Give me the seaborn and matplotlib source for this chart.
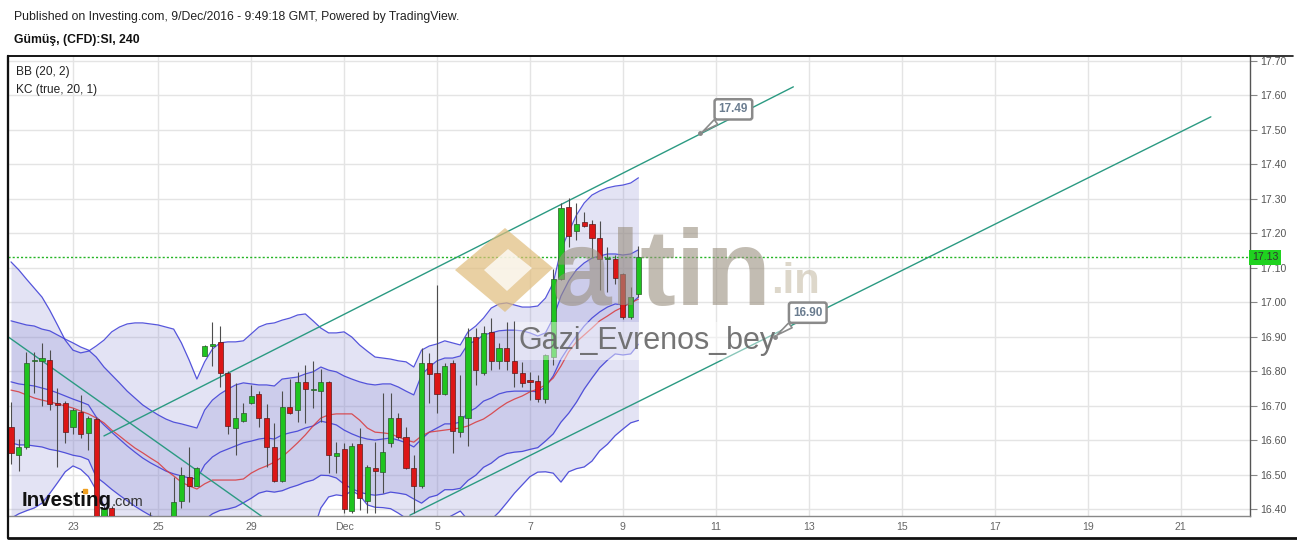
import matplotlib
matplotlib.use("Agg")
import matplotlib.pyplot as plt
from matplotlib import font_manager
from matplotlib.lines import Line2D
from matplotlib.patches import Polygon
import matplotlib.transforms as mtransforms
import numpy as np
import seaborn as sns

# ── data (4h candles, Gümüş CFD) ───────────────────────────────────────────────
opens = [16.638, 16.557, 16.580, 16.829, 16.829, 16.832, 16.706, 16.708, 16.638, 16.681,
         16.620, 16.661, 16.330, 16.403, 16.310, 16.270, 16.300, 16.290, 16.310, 16.350,
         16.330, 16.340, 16.424, 16.492, 16.468, 16.845, 16.874, 16.884, 16.794, 16.634,
         16.656, 16.708, 16.733, 16.663, 16.581, 16.482, 16.697, 16.687, 16.768, 16.745,
         16.742, 16.768, 16.555, 16.573, 16.394, 16.589, 16.424, 16.518, 16.508, 16.591,
         16.663, 16.608, 16.518, 16.468, 16.823, 16.794, 16.733, 16.823, 16.624, 16.663,
         16.898, 16.796, 16.913, 16.830, 16.866, 16.830, 16.796, 16.774, 16.771, 16.718,
         16.842, 17.067, 17.276, 17.206, 17.233, 17.228, 17.187, 17.124, 17.126, 17.082,
         16.957, 17.023]
highs = [16.710, 16.603, 16.856, 16.856, 16.882, 16.861, 16.751, 16.712, 16.693, 16.731,
         16.670, 16.668, 16.410, 16.410, 16.350, 16.320, 16.340, 16.330, 16.390, 16.370,
         16.360, 16.493, 16.523, 16.581, 16.522, 16.876, 16.944, 16.932, 16.800, 16.765,
         16.708, 16.760, 16.742, 16.705, 16.650, 16.742, 16.776, 16.798, 16.818, 16.829,
         16.805, 16.772, 16.595, 16.591, 16.591, 16.634, 16.528, 16.593, 16.736, 16.736,
         16.679, 16.639, 16.557, 16.866, 16.852, 17.050, 16.825, 16.832, 16.789, 16.924,
         16.924, 16.932, 16.954, 16.882, 16.944, 16.945, 16.826, 16.798, 16.789, 16.849,
         17.096, 17.287, 17.302, 17.287, 17.263, 17.239, 17.237, 17.161, 17.137, 17.086,
         17.043, 17.163]
lows = [16.531, 16.510, 16.574, 16.737, 16.699, 16.687, 16.522, 16.591, 16.618, 16.606,
        16.571, 16.300, 16.300, 16.290, 16.240, 16.230, 16.260, 16.250, 16.290, 16.300,
        16.290, 16.320, 16.402, 16.421, 16.467, 16.844, 16.815, 16.753, 16.618, 16.557,
        16.653, 16.705, 16.637, 16.523, 16.478, 16.477, 16.676, 16.653, 16.649, 16.692,
        16.653, 16.504, 16.504, 16.388, 16.388, 16.397, 16.388, 16.388, 16.446, 16.581,
        16.602, 16.516, 16.388, 16.460, 16.707, 16.678, 16.731, 16.563, 16.610, 16.584,
        16.760, 16.789, 16.803, 16.806, 16.803, 16.754, 16.754, 16.716, 16.711, 16.707,
        16.818, 17.065, 17.161, 17.180, 17.219, 17.130, 17.035, 17.029, 17.053, 16.952,
        16.951, 17.015]
closes = [16.562, 16.580, 16.824, 16.833, 16.838, 16.705, 16.703, 16.623, 16.687, 16.618,
          16.664, 16.330, 16.403, 16.310, 16.270, 16.300, 16.290, 16.310, 16.350, 16.330,
          16.340, 16.421, 16.498, 16.468, 16.518, 16.873, 16.874, 16.794, 16.642, 16.663,
          16.678, 16.728, 16.663, 16.581, 16.482, 16.697, 16.678, 16.769, 16.747, 16.745,
          16.768, 16.557, 16.562, 16.400, 16.583, 16.431, 16.521, 16.511, 16.566, 16.663,
          16.608, 16.518, 16.468, 16.823, 16.792, 16.733, 16.816, 16.626, 16.670, 16.898,
          16.803, 16.910, 16.830, 16.866, 16.830, 16.796, 16.767, 16.769, 16.719, 16.847,
          17.067, 17.273, 17.191, 17.228, 17.220, 17.187, 17.126, 17.124, 17.071, 16.957,
          17.016, 17.131]

# Bollinger Bands (20, 2)
bb_upper = [17.117, 17.094, 17.067, 17.041, 17.015, 16.977, 16.934, 16.890, 16.861, 16.853,
            16.858, 16.873, 16.890, 16.914, 16.928, 16.937, 16.940, 16.940, 16.937, 16.934,
            16.928, 16.922, 16.882, 16.832, 16.777, 16.827, 16.864, 16.882, 16.885, 16.885,
            16.888, 16.908, 16.928, 16.937, 16.940, 16.948, 16.954, 16.963, 16.966, 16.946,
            16.925, 16.911, 16.911, 16.914, 16.899, 16.876, 16.858, 16.841, 16.838, 16.835,
            16.830, 16.827, 16.812, 16.861, 16.873, 16.879, 16.888, 16.882, 16.876, 16.914,
            16.931, 16.954, 16.983, 16.995, 16.998, 16.992, 16.986, 16.986, 16.989, 17.012,
            17.056, 17.152, 17.204, 17.253, 17.288, 17.311, 17.323, 17.332, 17.337, 17.340,
            17.346, 17.361]
bb_basis = [16.745, 16.740, 16.731, 16.722, 16.716, 16.711, 16.705, 16.699, 16.693, 16.684,
            16.676, 16.664, 16.650, 16.629, 16.612, 16.594, 16.577, 16.563, 16.548, 16.534,
            16.513, 16.496, 16.478, 16.467, 16.458, 16.473, 16.484, 16.484, 16.484, 16.484,
            16.487, 16.504, 16.516, 16.525, 16.536, 16.551, 16.571, 16.592, 16.615, 16.641,
            16.664, 16.673, 16.676, 16.676, 16.676, 16.658, 16.635, 16.623, 16.621, 16.618,
            16.609, 16.600, 16.594, 16.612, 16.623, 16.626, 16.629, 16.632, 16.635, 16.641,
            16.652, 16.661, 16.676, 16.693, 16.708, 16.719, 16.728, 16.740, 16.748, 16.760,
            16.780, 16.815, 16.856, 16.885, 16.905, 16.925, 16.946, 16.960, 16.975, 16.986,
            16.998, 17.009]
bb_lower = [16.373, 16.386, 16.395, 16.403, 16.417, 16.445, 16.476, 16.508, 16.525, 16.515,
            16.494, 16.455, 16.410, 16.344, 16.296, 16.251, 16.214, 16.186, 16.159, 16.134,
            16.098, 16.070, 16.074, 16.102, 16.139, 16.119, 16.104, 16.086, 16.083, 16.083,
            16.086, 16.100, 16.104, 16.113, 16.132, 16.154, 16.188, 16.221, 16.264, 16.336,
            16.403, 16.435, 16.441, 16.438, 16.453, 16.440, 16.412, 16.405, 16.404, 16.401,
            16.388, 16.373, 16.376, 16.363, 16.373, 16.373, 16.370, 16.382, 16.394, 16.368,
            16.373, 16.368, 16.369, 16.391, 16.418, 16.446, 16.470, 16.494, 16.507, 16.508,
            16.504, 16.478, 16.508, 16.517, 16.522, 16.539, 16.569, 16.588, 16.613, 16.632,
            16.650, 16.657]

# Keltner Channel (true, 20, 1)
kc_upper = [16.946, 16.940, 16.934, 16.931, 16.922, 16.917, 16.905, 16.893, 16.882, 16.870,
            16.861, 16.841, 16.812, 16.789, 16.766, 16.742, 16.722, 16.702, 16.687, 16.673,
            16.661, 16.652, 16.647, 16.641, 16.635, 16.687, 16.716, 16.734, 16.748, 16.760,
            16.766, 16.763, 16.760, 16.760, 16.757, 16.777, 16.780, 16.783, 16.792, 16.798,
            16.812, 16.803, 16.798, 16.786, 16.777, 16.769, 16.763, 16.760, 16.763, 16.763,
            16.754, 16.742, 16.731, 16.789, 16.812, 16.830, 16.838, 16.838, 16.844, 16.879,
            16.888, 16.905, 16.911, 16.917, 16.919, 16.919, 16.917, 16.911, 16.902, 16.911,
            16.954, 17.018, 17.062, 17.094, 17.114, 17.128, 17.134, 17.140, 17.140, 17.137,
            17.140, 17.152]
kc_basis = [16.769, 16.763, 16.760, 16.757, 16.751, 16.745, 16.737, 16.728, 16.719, 16.711,
            16.702, 16.667, 16.644, 16.623, 16.603, 16.583, 16.565, 16.548, 16.534, 16.522,
            16.510, 16.502, 16.496, 16.490, 16.487, 16.528, 16.551, 16.565, 16.574, 16.583,
            16.592, 16.597, 16.603, 16.606, 16.603, 16.615, 16.621, 16.626, 16.635, 16.641,
            16.655, 16.650, 16.644, 16.629, 16.618, 16.609, 16.603, 16.600, 16.603, 16.606,
            16.600, 16.592, 16.580, 16.603, 16.623, 16.635, 16.647, 16.647, 16.652, 16.681,
            16.693, 16.713, 16.722, 16.734, 16.740, 16.742, 16.742, 16.742, 16.740, 16.754,
            16.786, 16.835, 16.870, 16.902, 16.931, 16.954, 16.972, 16.986, 16.995, 16.992,
            16.995, 17.015]
kc_lower = [16.592, 16.586, 16.586, 16.583, 16.580, 16.573, 16.569, 16.563, 16.556, 16.552,
            16.543, 16.493, 16.476, 16.457, 16.440, 16.424, 16.408, 16.394, 16.381, 16.371,
            16.359, 16.352, 16.345, 16.339, 16.339, 16.369, 16.386, 16.396, 16.400, 16.406,
            16.418, 16.431, 16.446, 16.452, 16.449, 16.453, 16.462, 16.469, 16.478, 16.484,
            16.498, 16.497, 16.490, 16.472, 16.459, 16.449, 16.443, 16.440, 16.443, 16.449,
            16.446, 16.442, 16.429, 16.417, 16.434, 16.440, 16.456, 16.456, 16.460, 16.483,
            16.498, 16.521, 16.533, 16.551, 16.561, 16.565, 16.567, 16.573, 16.578, 16.597,
            16.618, 16.652, 16.678, 16.710, 16.748, 16.780, 16.810, 16.832, 16.850, 16.847,
            16.850, 16.878]

# hand-drawn trend lines: (bar, price) end points
trend_down = [(-0.4, 16.900), (32.6, 16.375)]
trend_up_hi = [(12.0, 16.612), (101.0, 17.625)]
trend_up_lo = [(51.5, 16.382), (154.9, 17.538)]
callouts = [(89.0, 17.49, "17.49"), (98.6, 16.90, "16.90")]

last_price = 17.13
price_ticks = [16.40, 16.50, 16.60, 16.70, 16.80, 16.90, 17.00, 17.10, 17.20,
               17.30, 17.40, 17.50, 17.60, 17.70]
date_ticks = [8, 19, 31, 43, 55, 67, 79, 91, 103, 115, 127, 139, 151]
date_labels = ["23", "25", "29", "Dec", "5", "7", "9", "11", "13", "15", "17", "19", "21"]

# ── style ─────────────────────────────────────────────────────────────────────
sns.set_style("white")
names = {f.name for f in font_manager.fontManager.ttflist}
NARROW = "Liberation Sans Narrow" if "Liberation Sans Narrow" in names else "Liberation Sans"
plt.rcParams["font.family"] = ["Liberation Sans", "DejaVu Sans"]

W, H = 1297, 540
fig = plt.figure(figsize=(W / 100, H / 100), dpi=100)
fig.patch.set_facecolor("white")

L, R, T, B = 8, 1250, 56, 516
ax = fig.add_axes([L / W, (H - B) / H, (R - L) / W, (B - T) / H])
ax.set_facecolor("white")

x = np.arange(len(closes))
o, h, l, c = map(np.array, (opens, highs, lows, closes))

# grid
for yt in price_ticks:
    ax.axhline(yt, color="#e4e4e4", lw=1, zorder=0)
for xt in date_ticks:
    ax.axvline(xt, color="#e4e4e4", lw=1, zorder=0)

# band fills
ax.fill_between(x, bb_lower, bb_upper, color="#8c8cd2", alpha=0.24, lw=0, zorder=1)
ax.fill_between(x, kc_lower, kc_upper, color="#8c8cd2", alpha=0.26, lw=0, zorder=1)

for arr in (bb_upper, bb_lower, kc_upper, kc_basis, kc_lower):
    sns.lineplot(x=x, y=arr, ax=ax, color="#3a3ad6", lw=0.9, alpha=0.85, zorder=2)
sns.lineplot(x=x, y=bb_basis, ax=ax, color="#d9383a", lw=0.9, alpha=0.85, zorder=2)

# trend lines
for seg in (trend_down, trend_up_hi, trend_up_lo):
    (x0, y0), (x1, y1) = seg
    sns.lineplot(x=[x0, x1], y=[y0, y1], ax=ax, color="#2b9a82", lw=1.0, zorder=2.5)

# candles
up = c >= o
body_lo = np.minimum(o, c)
body_h = np.maximum(np.abs(c - o), 0.004)
ax.vlines(x, l, h, color="#4d4d4d", lw=0.8, zorder=3)
ax.bar(x[up], body_h[up], bottom=body_lo[up], width=0.66, color="#1fc41f",
       edgecolor="#2a5a2a", linewidth=0.5, zorder=3.2)
ax.bar(x[~up], body_h[~up], bottom=body_lo[~up], width=0.66, color="#dc1616",
       edgecolor="#5a1a1a", linewidth=0.5, zorder=3.2)

# last price line
ax.axhline(last_price, color="#25b525", lw=1, ls=(0, (1.5, 1.5)), zorder=2.6)

# watermark (altin.in + user)
ta = ax.transAxes
def fx(px): return (px - L) / (R - L)
def fy(py): return (B - py) / (B - T)

outer = [(fx(455), fy(270)), (fx(505), fy(228)), (fx(553), fy(268)), (fx(505), fy(312))]
inner = [(fx(484), fy(270)), (fx(508), fy(249)), (fx(532), fy(268)), (fx(507), fy(291))]
ax.add_patch(Polygon(outer, closed=True, transform=ta, fc="#e0bd7c", ec="none", alpha=0.7, zorder=4))
ax.add_patch(Polygon(inner, closed=True, transform=ta, fc="white", ec="none", alpha=0.75, zorder=4.1))
ax.text(fx(552), fy(305), "altin", transform=ta, fontsize=77, fontweight="bold",
        color="#9a9080", alpha=0.6, ha="left", va="baseline", zorder=4)
ax.text(fx(771), fy(293), ".in", transform=ta, fontsize=30, fontweight="bold",
        color="#cfc6b4", alpha=0.7, ha="left", va="baseline", zorder=4)
ax.text(fx(519), fy(349), "Gazi_Evrenos_bey", transform=ta, fontsize=22,
        color="#666666", alpha=0.9, ha="left", va="baseline", zorder=4.2,
        bbox=dict(boxstyle="square,pad=0.12", fc="white", ec="none", alpha=0.45))

# Investing.com logo
ax.text(fx(22), fy(506), "Investing", transform=ta, fontsize=14.8, fontweight="bold",
        family=[NARROW, "DejaVu Sans"], color="#111111", ha="left", va="baseline", zorder=5)
ax.text(fx(112), fy(506), ".com", transform=ta, fontsize=10.5,
        color="#333333", ha="left", va="baseline", zorder=5)
ax.plot([fx(85)], [fy(491)], transform=ta, marker="s", ms=2.2, color="#f0a020", zorder=5.1)

# indicator legend
ax.text(fx(16), fy(72), "BB (20, 2)", transform=ta, fontsize=8.6, color="#222222",
        ha="left", va="center", zorder=6)
ax.text(fx(16), fy(90), "KC (true, 20, 1)", transform=ta, fontsize=8.6, color="#222222",
        ha="left", va="center", zorder=6)

# callouts on channel lines
for bx, py, label in callouts:
    ax.plot([bx], [py], marker="o", ms=2.5, color="#888888", zorder=6)
    ax.annotate(label, xy=(bx, py), xytext=(33, 24), textcoords="offset pixels",
                ha="center", va="center", fontsize=8.5, fontweight="bold", color="#6b7d90",
                bbox=dict(boxstyle="round,pad=0.35,rounding_size=0.2", fc="white",
                          ec="#8a8a8a", lw=1.8),
                arrowprops=dict(arrowstyle="wedge,tail_width=0.5,shrink_factor=0.5",
                                fc="white", ec="#8a8a8a", lw=1.2),
                zorder=6)

# axes, ticks
ax.set_xlim((L - 11) / 7.746, (R - 11) / 7.746)
ax.set_ylim(16.40 - 7 / 344.6, 17.70 + 5 / 344.6)
ax.yaxis.tick_right()
ax.set_yticks(price_ticks)
ax.set_yticklabels([f"{v:.2f}" for v in price_ticks], family=[NARROW, "DejaVu Sans"],
                   fontsize=7.6, color="#555555")
ax.tick_params(axis="y", right=True, length=5, width=0.8, color="#888888", pad=2)
ax.set_xticks(date_ticks)
ax.set_xticklabels(date_labels, family=[NARROW, "DejaVu Sans"], fontsize=7.6, color="#666666")
ax.tick_params(axis="x", bottom=False, length=0, pad=4)
ax.set_xlabel("")
ax.set_ylabel("")
for side, col, lw in (("left", "#111111", 1.5), ("top", "#222222", 1.2),
                      ("right", "#555555", 1.0), ("bottom", "#888888", 1.0)):
    ax.spines[side].set_color(col)
    ax.spines[side].set_linewidth(lw)

# price tag on the right axis
tag_tr = mtransforms.blended_transform_factory(ax.transAxes, ax.transData)
ax.text(1.0016, last_price, "17.13", transform=tag_tr, ha="left", va="center",
        fontsize=7.6, family=[NARROW, "DejaVu Sans"], color="#333333", zorder=10, clip_on=False,
        bbox=dict(boxstyle="square,pad=0.25", fc="#1fd21f", ec="none"))

# outer frame
def fline(xs, ys, lw=2.0, col="#111111"):
    fig.add_artist(Line2D([v / W for v in xs], [1 - v / H for v in ys],
                          color=col, lw=lw, transform=fig.transFigure))
fline([8, 1293], [56, 56], lw=1.2)
fline([8, 8], [56, 538], lw=1.6)
fline([8, 1297], [537.5, 537.5], lw=2.0)

# header
fig.text(14 / W, 1 - 17 / H, "Published on Investing.com, 9/Dec/2016 - 9:49:18 GMT, Powered by TradingView.",
         fontsize=8.8, color="#222222", ha="left", va="center")
fig.text(14 / W, 1 - 40 / H, "Gümüş, (CFD):SI, 240", fontsize=8.8, fontweight="bold",
         color="#111111", ha="left", va="center")

fig.savefig("out.png", dpi=100, facecolor="white")
